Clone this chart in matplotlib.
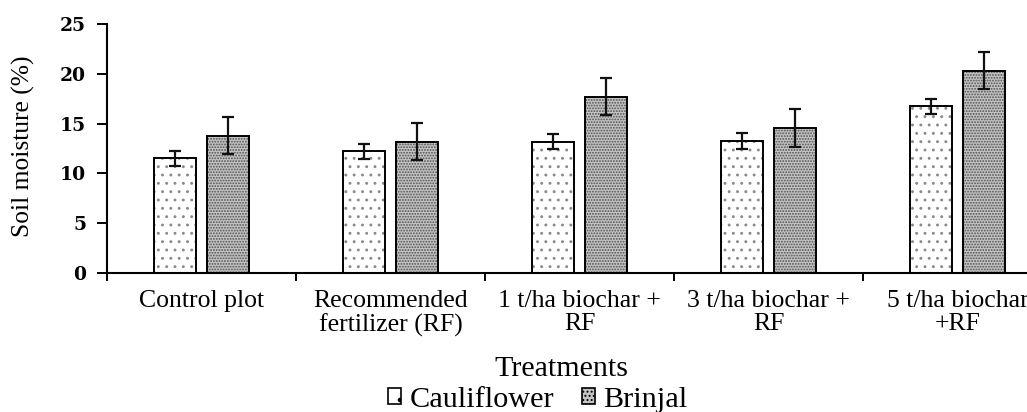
import matplotlib
matplotlib.use("Agg")
import matplotlib.pyplot as plt
import numpy as np
from matplotlib.patches import Patch

# données
treatments = ["Control plot", "Recommended\nfertilizer (RF)", "1 t/ha biochar +\nRF",
              "3 t/ha biochar +\nRF", "5 t/ha biochar\n+RF"]
cauliflower = [11.5, 12.2, 13.2, 13.25, 16.75]
cauliflower_err = [0.75, 0.75, 0.8, 0.8, 0.75]
brinjal = [13.8, 13.2, 17.7, 14.55, 20.3]
brinjal_err = [1.9, 1.9, 1.85, 1.9, 1.85]
yticks = [0, 5, 10, 15, 20, 25]

SERIF = "Liberation Serif"
W, H = 1027, 412

plt.rcParams["hatch.linewidth"] = 0.9

fig = plt.figure(figsize=(W / 100, H / 100), dpi=100)
ax = fig.add_axes([107 / W, (H - 273) / H, (1052 - 107) / W, (273 - 24) / H])

x = np.arange(len(treatments))
width = 0.225
off = 0.141

# cauliflower : blanc avec points épars
ax.bar(x - off, cauliflower, width, color="white", edgecolor="#8a8a8a", hatch="..", linewidth=0)
ax.bar(x - off, cauliflower, width, fill=False, edgecolor="black", linewidth=1.4)
# brinjal : gris dense
ax.bar(x + off, brinjal, width, color="#c4c4c4", edgecolor="#505050", hatch="......", linewidth=0)
ax.bar(x + off, brinjal, width, fill=False, edgecolor="black", linewidth=1.4)

ax.errorbar(x - off, cauliflower, yerr=cauliflower_err, fmt="none", ecolor="#111111",
            elinewidth=1.6, capsize=4.5, capthick=1.6)
ax.errorbar(x + off, brinjal, yerr=brinjal_err, fmt="none", ecolor="#111111",
            elinewidth=1.6, capsize=4.5, capthick=1.6)

ax.set_xlim(-0.5, len(treatments) - 0.5)
ax.set_ylim(0, 25)
ax.set_yticks(yticks)
ax.set_yticklabels([str(v) for v in yticks], family="DejaVu Serif", fontweight="bold", fontsize=13.5)
ax.set_xticks(x)
ax.set_xticklabels(treatments, family=SERIF, fontsize=18.5, linespacing=1.1)
ax.set_xticks(np.arange(len(treatments) + 1) - 0.5, minor=True)
ax.tick_params(axis="x", which="major", length=0, pad=12)
ax.tick_params(axis="x", which="minor", length=6, width=1.4, direction="out")
ax.tick_params(axis="y", length=7, width=1.4, direction="out", pad=8)

for s in ["top", "right"]:
    ax.spines[s].set_visible(False)
ax.spines["left"].set_linewidth(1.5)
ax.spines["bottom"].set_linewidth(1.5)

fig.text(23 / W, 1 - 146 / H, "Soil moisture (%)", rotation=90, ha="center", va="center",
         family=SERIF, fontsize=18.4)
fig.text(561 / W, 1 - 376 / H, "Treatments", ha="center", va="baseline",
         family=SERIF, fontsize=21.6)

handles = [Patch(facecolor="white", edgecolor="black", hatch=".", linewidth=1.2, label="Cauliflower"),
           Patch(facecolor="#c4c4c4", edgecolor="black", hatch="....", linewidth=1.2, label="Brinjal")]
fig.legend(handles=handles, loc="center", bbox_to_anchor=(538 / W, 1 - 400 / H), ncol=2,
           frameon=False, prop={"family": SERIF, "size": 21.8}, handlelength=0.42,
           handleheight=0.42, handletextpad=0.3, columnspacing=0.9, borderpad=0,
           borderaxespad=0)

fig.savefig("out.png", dpi=100)
